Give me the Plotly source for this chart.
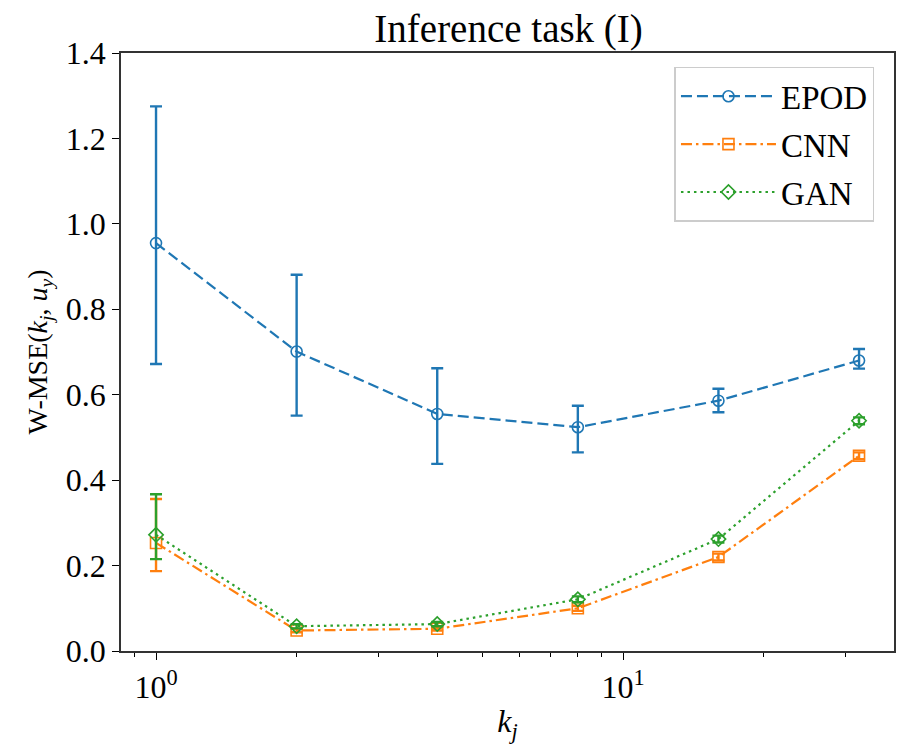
import plotly.graph_objects as go

k_values = [1, 2, 4, 8, 16, 32]

epod_mean = [0.955, 0.701, 0.555, 0.524, 0.586, 0.680]
epod_err_plus = [0.320, 0.180, 0.107, 0.050, 0.028, 0.027]
epod_err_minus = [0.283, 0.150, 0.117, 0.059, 0.027, 0.019]

cnn_mean = [0.253, 0.048, 0.052, 0.100, 0.220, 0.457]
cnn_err_plus = [0.103, 0.004, 0.004, 0.006, 0.008, 0.008]
cnn_err_minus = [0.066, 0.004, 0.004, 0.006, 0.008, 0.008]

gan_mean = [0.272, 0.058, 0.063, 0.121, 0.262, 0.539]
gan_err_plus = [0.095, 0.005, 0.005, 0.007, 0.008, 0.008]
gan_err_minus = [0.057, 0.005, 0.005, 0.007, 0.008, 0.008]

x_major_vals = [1, 10]
x_major_text = ["10<sup>0</sup>", "10<sup>1</sup>"]
x_minor_vals = [0.9, 2, 3, 4, 5, 6, 7, 8, 9, 20, 30]
y_ticks = [0.0, 0.2, 0.4, 0.6, 0.8, 1.0, 1.2, 1.4]

BLUE = "#1f77b4"
ORANGE = "#ff7f0e"
GREEN = "#2ca02c"
FONT = "Liberation Serif"

fig = go.Figure()

series = [
    ("EPOD", epod_mean, epod_err_plus, epod_err_minus, BLUE, "11px,5px", "circle-open"),
    ("CNN", cnn_mean, cnn_err_plus, cnn_err_minus, ORANGE, "11px,4px,2.5px,4px", "square-open"),
    ("GAN", gan_mean, gan_err_plus, gan_err_minus, GREEN, "2.5px,4px", "diamond-open"),
]

for name, mean, ep, em, color, dash, symbol in series:
    fig.add_trace(go.Scatter(
        x=k_values, y=mean, name=name, mode="lines+markers",
        line=dict(color=color, width=2.2, dash=dash),
        marker=dict(symbol=symbol, size=11, color=color, line=dict(width=1.6, color=color)),
        error_y=dict(type="data", symmetric=False, array=ep, arrayminus=em,
                     color=color, thickness=2.4, width=6),
        legendgroup=name,
    ))

fig.update_layout(
    width=897, height=744,
    margin=dict(l=121, r=1, t=53, b=93),
    paper_bgcolor="white", plot_bgcolor="white",
    font=dict(family=FONT, size=32, color="black"),
    title=dict(text="Inference task (I)", x=0.567, xanchor="center", y=0.962, yanchor="middle",
               font=dict(family=FONT, size=39, color="black")),
    showlegend=True,
    legend=dict(x=0.716, y=0.977, xanchor="left", yanchor="top",
                bgcolor="rgba(255,255,255,0.8)", bordercolor="#cccccc", borderwidth=1.5,
                font=dict(family=FONT, size=33), tracegroupgap=2,
                itemwidth=95),
)

fig.update_xaxes(
    type="log", range=[-0.075, 1.58],
    tickmode="array", tickvals=x_major_vals, ticktext=x_major_text,
    ticks="outside", ticklen=7, tickwidth=1.2, tickcolor="black",
    minor=dict(tickmode="array", tickvals=x_minor_vals, ticks="outside", ticklen=4,
               tickwidth=1, tickcolor="black", showgrid=False),
    showline=True, linecolor="#333333", linewidth=1.5, mirror=True,
    showgrid=False, zeroline=False,
    tickfont=dict(family=FONT, size=32),
    title=dict(text="<i>k<sub>j</sub></i>", standoff=8, font=dict(family=FONT, size=32)),
)

fig.update_yaxes(
    range=[0, 1.4], tickmode="array", tickvals=y_ticks,
    ticktext=[f"{v:.1f}" for v in y_ticks],
    ticks="outside", ticklen=7, tickwidth=1.2, tickcolor="black",
    showline=True, linecolor="#333333", linewidth=1.5, mirror=True,
    showgrid=False, zeroline=False,
    tickfont=dict(family=FONT, size=32),
    title=dict(text="W-MSE(<i>k<sub>j</sub></i>, <i>u<sub>y</sub></i>)", standoff=10,
               font=dict(family=FONT, size=28)),
)

fig.write_html("out.html")
